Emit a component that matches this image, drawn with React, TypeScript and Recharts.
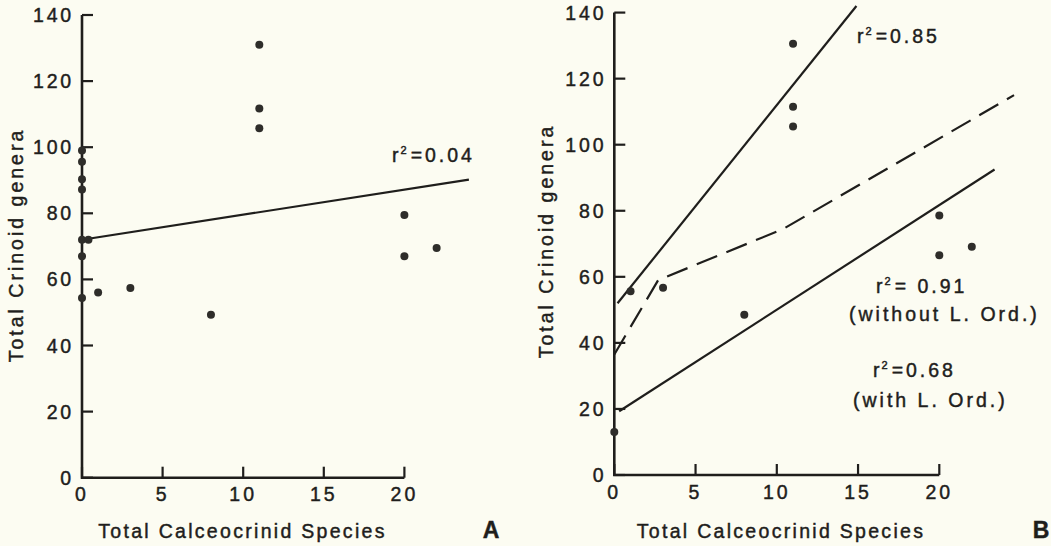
import React from "react"
import { ScatterChart, Scatter, XAxis, YAxis } from "recharts"

// panel A: all localities
const aSpecies = [0, 0, 0, 0, 0, 0.4, 0, 0, 1, 3, 8, 11, 11, 11, 20, 20, 22]
const aGenera = [99, 95.6, 90.3, 87.2, 72, 72, 67, 54.4, 56, 57.4, 49.3, 131, 111.7, 105.7, 79.5, 67, 69.5]
const aFitX = [0, 24]
const aFitY = [72, 90.2]

// panel B
const bSpecies = [0, 1, 3, 8, 11, 11, 11, 20, 20, 22]
const bGenera = [13, 55.6, 56.7, 48.5, 130.6, 111.5, 105.5, 78.6, 66.5, 69.1]
const bUpperX = [0.2, 14.9]
const bUpperY = [52, 142]
const bDashX = [0, 2.7, 10.4, 24.6]
const bDashY = [36.5, 59, 74.5, 115]
const bLowerX = [0.3, 23.4]
const bLowerY = [19.3, 92.5]

const xTicks = [0, 5, 10, 15, 20]
const yTicks = [0, 20, 40, 60, 80, 100, 120, 140]

const W = 1051
const H = 546
const ink = "#1f1e1c"
const bg = "#fcfcf2"
const font = "'Liberation Sans', Arial, sans-serif"
const textStyle = { fill: ink, stroke: ink, strokeWidth: 0.45, fontFamily: font }

// both panels share one chart surface; each panel has its own pair of hidden axes
// placed by where its origin sits and how many px one unit takes
const placeA = { x0: 82, y0: 477.7, sx: 16.12, sy: 3.305 }
const placeB = { x0: 614.3, y0: 475, sx: 16.25, sy: 3.303 }
const xDom = (p: any) => [-p.x0 / p.sx, (W - p.x0) / p.sx]
const yDom = (p: any) => [-(H - p.y0) / p.sy, p.y0 / p.sy]

const zip = (xs: number[], ys: number[]) => xs.map((x, i) => ({ x, y: ys[i] }))

const frame = () => [
  { x: 0, y: yTicks[yTicks.length - 1] },
  { x: 0, y: 0 },
  { x: xTicks[xTicks.length - 1], y: 0 },
]
const yTickPts = () => yTicks.map((t) => ({ x: 0, y: t, label: t }))
const xTickPts = () => xTicks.map((t) => ({ x: t, y: 0, label: t }))

const labelOf = (p: any) => (p.payload && p.payload.label !== undefined ? p.payload.label : p.label)

const yTickShape = (p: any) => (
  <g>
    <path d={`M${p.cx},${p.cy}h11`} stroke={ink} strokeWidth={2.2} fill="none" />
    <text x={p.cx - 8} y={p.cy} dy="0.36em" textAnchor="end" fontSize={19.5} letterSpacing={2.8} style={textStyle}>
      {labelOf(p)}
    </text>
  </g>
)
const xTickShape = (p: any) => (
  <g>
    <path d={`M${p.cx},${p.cy}v-11`} stroke={ink} strokeWidth={2.2} fill="none" />
    <text x={p.cx} y={p.cy + 9.5} dy="0.72em" textAnchor="middle" fontSize={19.5} letterSpacing={3} style={textStyle}>
      {labelOf(p)}
    </text>
  </g>
)

const noShape = () => <g />
const dot = (p: any) => <circle cx={p.cx} cy={p.cy} r={4} fill="#2e2d2a" />

function Sup({ x, y, pre, rest }: any) {
  return (
    <text x={x} y={y} fontSize={19.5} letterSpacing={3} style={textStyle}>
      {pre}
      <tspan fontSize={11} dy={-8} dx={-1}>2</tspan>
      <tspan dy={8} dx={1}>{rest}</tspan>
    </text>
  )
}

function Plain({ x, y, children }: any) {
  return (
    <text x={x} y={y} fontSize={19.5} letterSpacing={3} style={textStyle}>
      {children}
    </text>
  )
}

export default function App() {
  const lineStyle = { stroke: ink, strokeWidth: 2.2 }
  const axisStyle = { stroke: ink, strokeWidth: 2.6 }
  return (
    <div style={{ position: "absolute", left: 0, top: 0, width: W, height: H, background: bg }}>
      <ScatterChart width={W} height={H} margin={{ top: 0, right: 0, bottom: 0, left: 0 }}>
        <XAxis xAxisId="a" type="number" dataKey="x" domain={xDom(placeA)} hide />
        <YAxis yAxisId="a" type="number" dataKey="y" domain={yDom(placeA)} hide />
        <XAxis xAxisId="b" type="number" dataKey="x" domain={xDom(placeB)} hide />
        <YAxis yAxisId="b" type="number" dataKey="y" domain={yDom(placeB)} hide />

        <Scatter xAxisId="a" yAxisId="a" data={zip(aFitX, aFitY)} line={lineStyle} shape={noShape} isAnimationActive={false} />
        <Scatter xAxisId="b" yAxisId="b" data={zip(bUpperX, bUpperY)} line={lineStyle} shape={noShape} isAnimationActive={false} />
        <Scatter
          xAxisId="b"
          yAxisId="b"
          data={zip(bDashX, bDashY)}
          line={{ ...lineStyle, strokeDasharray: "22 10" }}
          shape={noShape}
          isAnimationActive={false}
        />
        <Scatter xAxisId="b" yAxisId="b" data={zip(bLowerX, bLowerY)} line={lineStyle} shape={noShape} isAnimationActive={false} />

        <Scatter xAxisId="a" yAxisId="a" data={frame()} line={axisStyle} shape={noShape} isAnimationActive={false} />
        <Scatter xAxisId="b" yAxisId="b" data={frame()} line={axisStyle} shape={noShape} isAnimationActive={false} />
        <Scatter xAxisId="a" yAxisId="a" data={yTickPts()} shape={yTickShape} isAnimationActive={false} />
        <Scatter xAxisId="a" yAxisId="a" data={xTickPts()} shape={xTickShape} isAnimationActive={false} />
        <Scatter xAxisId="b" yAxisId="b" data={yTickPts()} shape={yTickShape} isAnimationActive={false} />
        <Scatter xAxisId="b" yAxisId="b" data={xTickPts()} shape={xTickShape} isAnimationActive={false} />

        <Scatter xAxisId="a" yAxisId="a" data={zip(aSpecies, aGenera)} shape={dot} isAnimationActive={false} />
        <Scatter xAxisId="b" yAxisId="b" data={zip(bSpecies, bGenera)} shape={dot} isAnimationActive={false} />
      </ScatterChart>
      <svg width={W} height={H} style={{ position: "absolute", left: 0, top: 0, pointerEvents: "none" }}>
        <text transform="translate(23,245) rotate(-90)" textAnchor="middle" fontSize={19.5} letterSpacing={3} style={textStyle}>
          Total Crinoid genera
        </text>
        <text transform="translate(553,241) rotate(-90)" textAnchor="middle" fontSize={19.5} letterSpacing={3} style={textStyle}>
          Total Crinoid genera
        </text>
        <text x={242.5} y={538} textAnchor="middle" fontSize={19.5} letterSpacing={2.3} style={textStyle}>
          Total Calceocrinid Species
        </text>
        <text x={781} y={538} textAnchor="middle" fontSize={19.5} letterSpacing={2.3} style={textStyle}>
          Total Calceocrinid Species
        </text>
        <text x={491} y={538} textAnchor="middle" fontSize={23} fontWeight="bold" style={textStyle}>A</text>
        <text x={1041} y={538} textAnchor="middle" fontSize={23} fontWeight="bold" style={textStyle}>B</text>
        <Sup x={392} y={162} pre="r" rest="=0.04" />
        <Sup x={857} y={43} pre="r" rest="=0.85" />
        <Sup x={876} y={292.7} pre="r" rest="= 0.91" />
        <Plain x={849} y={320.7}>(without L. Ord.)</Plain>
        <Sup x={873} y={376.7} pre="r" rest="=0.68" />
        <Plain x={853} y={406.7}>(with L. Ord.)</Plain>
      </svg>
    </div>
  )
}
